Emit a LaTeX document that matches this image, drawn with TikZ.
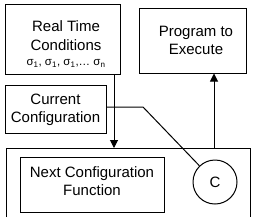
\documentclass[tikz,border=0pt]{standalone}
\usepackage{fontspec}
\setmainfont{Liberation Sans}
\usetikzlibrary{arrows.meta}
\begin{document}
\begin{tikzpicture}[x=1pt,y=-1pt,
  box/.style={draw,line width=1pt},
  lbl/.style={font=\fontsize{15}{18.5}\selectfont,align=center,inner sep=0pt},
  conn/.style={line width=1pt},
  arr/.style={line width=1pt,-{Triangle[width=8pt,length=8pt]}}]
\useasboundingbox (0,0) rectangle (256,223);
\fill[white] (0,0) rectangle (256,223);
% boxes
\draw[box] (5,4) rectangle (120,74);
\node[lbl] (rt) at (66,44) {Real Time\\Conditions\\[-3pt]{\fontsize{11.5}{13}\selectfont σ\textsubscript{1}, σ\textsubscript{1}, σ\textsubscript{1},… σ\textsubscript{n}}};
\draw[box] (139,8) rectangle (246,73);
\node[lbl] (pe) at (196,40.5) {Program to\\Execute};
\draw[box] (5,85) rectangle (106,133);
\node[lbl] (cc) at (55.5,110) {Current\\Configuration};
\draw[box] (6,217) -- (6,148) -- (250,148) -- (250,217);
\draw[box] (20,157) rectangle (164,212);
\node[lbl] (nc) at (92,181) {Next Configuration\\Function};
\node[draw,line width=1pt,circle,minimum size=44pt,inner sep=0pt,font=\fontsize{15}{18}\selectfont] (C) at (215,182) {C};
% coordinates for connectors
\coordinate (rtb) at (114,74);
\coordinate (bigt) at (114,148);
\coordinate (bigt2) at (214,148);
\coordinate (peb) at (214,73.5);
\coordinate (ccr) at (106,107);
\coordinate (bend) at (143,107);
\draw[arr] (rtb) -- (bigt);
\draw[arr] (bigt2) -- (peb);
\draw[conn] (ccr) -- (bend) -- (C);
\end{tikzpicture}
\end{document}
